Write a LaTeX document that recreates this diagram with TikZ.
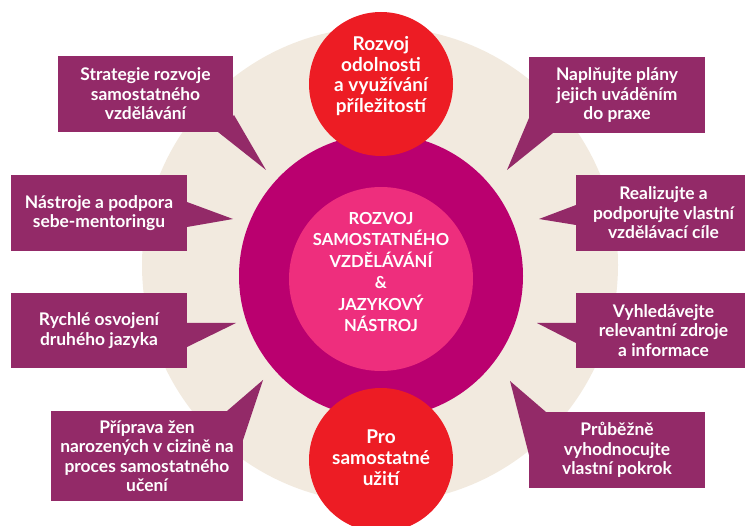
\documentclass[tikz,border=0pt]{standalone}
\usepackage{fontspec}
\setmainfont{Lato}
\definecolor{beige}{HTML}{F2EADF}
\definecolor{magc}{HTML}{BA006F}
\definecolor{pinkc}{HTML}{EE2E7D}
\definecolor{redc}{HTML}{ED1C24}
\definecolor{boxc}{HTML}{932A68}
\begin{document}
\begin{tikzpicture}[x=1pt,y=-1pt,
  box/.style={fill=boxc, text=white, font=\bfseries\fontsize{17.4}{19.5}\selectfont,
    align=center, inner sep=0pt},
  tail/.style={fill=boxc},
  redtxt/.style={text=white, font=\bfseries\fontsize{19}{20.8}\selectfont, align=center, inner sep=0pt},
  coretxt/.style={text=white, font=\bfseries\fontsize{16.6}{21.5}\selectfont, align=center, inner sep=0pt}]
\useasboundingbox (0,0) rectangle (745,526);
\clip (0,0) rectangle (745,526);
% circles
\fill[beige] (380,265) circle (238pt);
\fill[magc] (381,276) circle (142pt);
\fill[pinkc] (381,279) circle (92pt);
\fill[redc] (381,84) circle (72pt);
\fill[redc] (381,460) circle (72pt);
\node[coretxt] (core) at (381,272) {ROZVOJ\\SAMOSTATNÉHO\\VZDĚLÁVÁNÍ\\\&\\JAZYKOVÝ\\NÁSTROJ};
\node[redtxt] (top) at (381,76) {Rozvoj\\odolnosti\\a využívání\\příležitostí};
\node[redtxt] (bot) at (381,458) {Pro\\samostatné\\užití};
% tails
\fill[tail] (218,132) -- (266,170) -- (234,115) -- cycle;
\fill[tail] (187,202) -- (233,219) -- (187,227) -- cycle;
\fill[tail] (187,323) -- (236,323) -- (187,347) -- cycle;
\fill[tail] (227,411) -- (263,380) -- (243,440) -- cycle;
\fill[tail] (529,118) -- (507,170) -- (553,133) -- cycle;
\fill[tail] (576,205) -- (539,219) -- (576,225) -- cycle;
\fill[tail] (576,323) -- (537,323) -- (576,343) -- cycle;
\fill[tail] (546,412) -- (510,381) -- (529,455) -- cycle;
% boxes
\node[box, minimum width=175pt, minimum height=76pt] (b1) at (145.5,94) {Strategie rozvoje\\samostatného\\vzdělávání};
\node[box, minimum width=176pt, minimum height=76pt] (b2) at (99,213) {Nástroje a podpora\\sebe-mentoringu};
\node[box, minimum width=176pt, minimum height=75pt] (b3) at (99,330.5) {Rychlé osvojení\\druhého jazyka};
\node[box, minimum width=192pt, minimum height=90pt] (b4) at (147,456) {Příprava žen\\narozených v cizině na\\proces samostatného\\učení};
\node[box, minimum width=176pt, minimum height=76pt] (b5) at (617,95) {Naplňujte plány\\jejich uváděním\\do praxe};
\node[box, minimum width=175pt, minimum height=76pt] (b6) at (663.5,213) {Realizujte a\\podporujte vlastní\\vzdělávací cíle};
\node[box, minimum width=175pt, minimum height=75pt] (b7) at (663.5,330.5) {Vyhledávejte\\relevantní zdroje\\a informace};
\node[box, minimum width=176pt, minimum height=76pt] (b8) at (617,450) {Průběžně\\vyhodnocujte\\vlastní pokrok};
\end{tikzpicture}
\end{document}
